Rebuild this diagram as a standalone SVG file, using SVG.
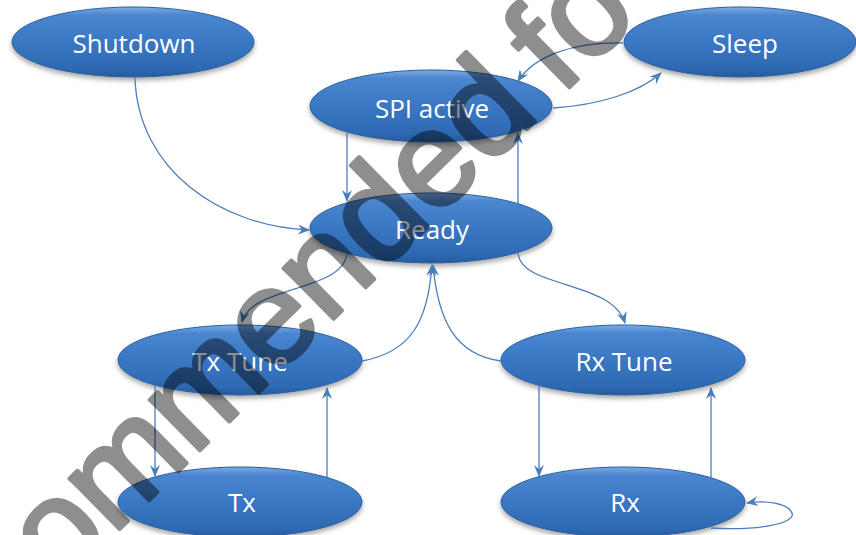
<svg xmlns="http://www.w3.org/2000/svg" width="856" height="535" viewBox="0 0 856 535">
<style>
.node ellipse{fill:url(#g);stroke:#2b5f9e;stroke-width:1;filter:url(#sh)}
.node text{font-family:"Open Sans","Noto Sans",sans-serif;font-size:26px;fill:#fff;text-anchor:middle}
#connectors path{fill:none;stroke:#4a7ebb;stroke-width:1.3;marker-end:url(#ar)}
.wm{font-family:"Liberation Sans",Arial,sans-serif;font-size:135px;fill:#000;stroke:#000;stroke-width:4;stroke-linejoin:round}
</style>
<defs>
<linearGradient id="g" x1="0" y1="0" x2="0" y2="1">
<stop offset="0" stop-color="#7aaae2"/>
<stop offset="0.12" stop-color="#4a86cf"/>
<stop offset="0.5" stop-color="#3a77c3"/>
<stop offset="0.88" stop-color="#2e69b3"/>
<stop offset="1" stop-color="#275a9a"/>
</linearGradient>
<filter id="sh" x="-10%" y="-20%" width="120%" height="150%">
<feDropShadow dx="0" dy="3" stdDeviation="2.5" flood-color="#000" flood-opacity="0.35"/>
</filter>
<marker id="ar" viewBox="0 0 12 10" refX="11" refY="5" markerWidth="12" markerHeight="10" markerUnits="userSpaceOnUse" orient="auto">
<path d="M0,0 L12,5 L0,10 L4,5 z" fill="#4a7ebb"/>
</marker>
</defs>
<rect width="856" height="535" fill="#fff"/>
<g id="node-shutdown" class="node"><ellipse cx="133" cy="42" rx="121" ry="35"/><text x="134" y="53">Shutdown</text></g>
<g id="node-spi" class="node"><ellipse cx="431" cy="106" rx="121" ry="36"/><text x="432" y="118">SPI active</text></g>
<g id="node-sleep" class="node"><ellipse cx="740" cy="42" rx="116" ry="35"/><text x="745" y="53">Sleep</text></g>
<g id="node-ready" class="node"><ellipse cx="431" cy="228" rx="121" ry="35"/><text x="432" y="239">Ready</text></g>
<g id="node-txtune" class="node"><ellipse cx="240" cy="360" rx="122" ry="35"/><text x="240" y="371">Tx Tune</text></g>
<g id="node-rxtune" class="node"><ellipse cx="623" cy="360" rx="122" ry="35"/><text x="624" y="371">Rx Tune</text></g>
<g id="node-tx" class="node"><ellipse cx="240" cy="502" rx="122" ry="35"/><text x="242" y="512">Tx</text></g>
<g id="node-rx" class="node"><ellipse cx="623" cy="502" rx="122" ry="35"/><text x="625" y="512">Rx</text></g>
<g id="connectors">
<path d="M135,78 C138,170 220,226 309,230"/>
<path d="M347,133 L347,201"/>
<path d="M518,203 L518,133"/>
<path d="M553,108 C600,105 640,92 661,73"/>
<path d="M623,43 C575,42 535,55 518,81"/>
<path d="M347,254 C342,292 252,285 242,322"/>
<path d="M362,361 C412,352 428,320 432,265"/>
<path d="M501,361 C455,355 438,320 433,265"/>
<path d="M518,253 C520,288 612,280 625,323"/>
<path d="M155,385 L155,476"/>
<path d="M327,477 L327,388"/>
<path d="M539,385 L539,476"/>
<path d="M711,477 L711,388"/>
<path d="M711,528 C760,531 796,523 792,513 C788,503 765,500 747,503"/>
</g>
<g id="watermark" opacity="0.44"><text class="wm" transform="translate(56,592) rotate(-44.5)" x="5">ommended<tspan dx="-10"> fo</tspan></text></g>
</svg>
